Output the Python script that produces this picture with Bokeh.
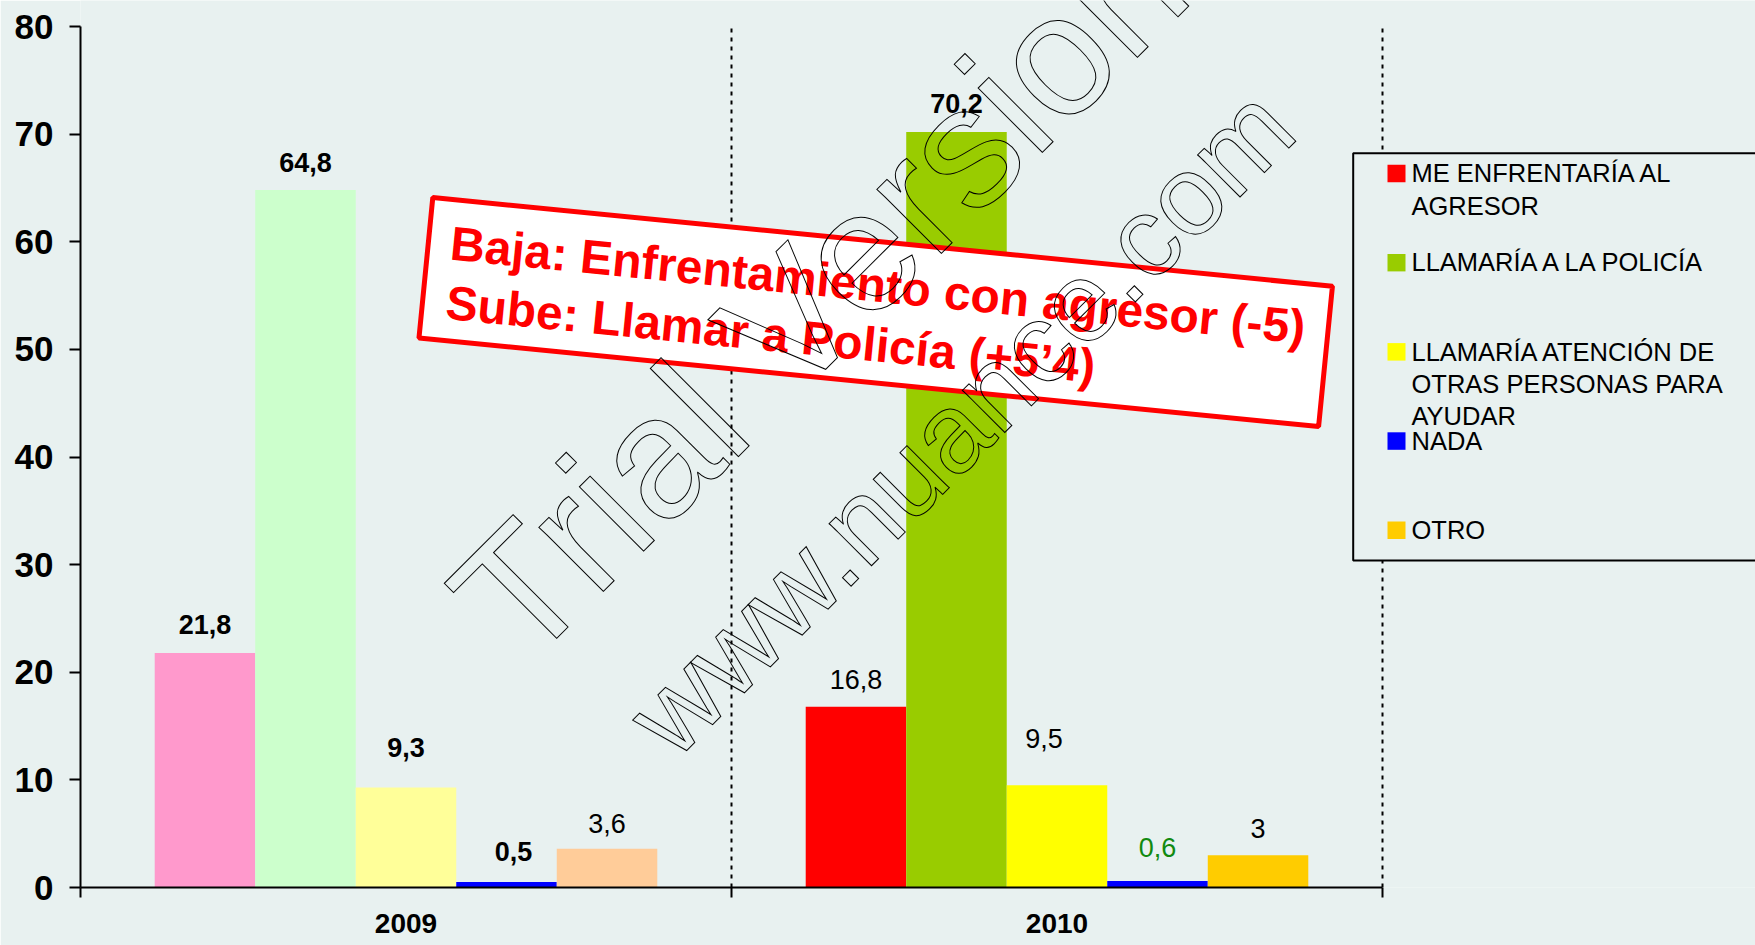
import numpy as np
from bokeh.plotting import figure
from bokeh.models import (ColumnDataSource, Range1d, LinearAxis, FixedTicker,
                          LabelSet, Label, BoxAnnotation)
from bokeh.transform import dodge
from bokeh.core.properties import value, field
from bokeh.embed import file_html
from bokeh.resources import INLINE

# ---------------- data ----------------
years = ["2009", "2010"]
series_names = ["ME ENFRENTARÍA AL AGRESOR", "LLAMARÍA A LA POLICÍA",
                "LLAMARÍA ATENCIÓN DE OTRAS PERSONAS PARA AYUDAR", "NADA", "OTRO"]
legend_labels = ["ME ENFRENTARÍA AL\nAGRESOR", "LLAMARÍA A LA POLICÍA",
                 "LLAMARÍA ATENCIÓN DE\nOTRAS PERSONAS PARA\nAYUDAR", "NADA", "OTRO"]
values_2009 = [21.8, 64.8, 9.3, 0.5, 3.6]
values_2010 = [16.8, 70.2, 9.5, 0.6, 3.0]
colors_2009 = ["#FF99CC", "#CCFFCC", "#FFFF99", "#0000FF", "#FFCC99"]
colors_2010 = ["#FF0000", "#99CC00", "#FFFF00", "#0000FF", "#FFCC00"]
y_ticks = [0, 10, 20, 30, 40, 50, 60, 70, 80]
note_lines = ["Baja: Enfrentamiento con agresor (-5)",
              "Sube: Llamar a Policía (+5\u20194)"]
watermark_texts = ["Trial Version", "www.nuance.com"]

# ---------------- styling of the value labels ----------------
label_bold_2009 = [True, True, True, True, False]
label_bold_2010 = [False, True, False, False, False]
label_color_2009 = ["black", "black", "black", "black", "black"]
label_color_2010 = ["black", "black", "black", "#118A11", "black"]
label_gap_2009 = [19, 18, 30, 21, 16]      # px above bar top
label_gap_2010 = [18, 19, 37, 24, 17]
label_dx_2009 = [0, 0, 0, 7, 0]            # px horizontal shift
label_dx_2010 = [0, 0, -13, 0, 0]

BG = "#E8F1F0"
FONT = "Liberation Sans"

W, H = 1755, 945
FL, FB = 80, 887          # frame left / bottom (canvas px)
XS = 651.0                # px per category
YS = 10.7625              # px per unit of value
n_cat = len(years)


def sx(px):   # canvas px -> frame screen units
    return px - FL


def sy(py):
    return FB - py


def dx(px):   # canvas px -> data x
    return (px - FL) / XS


def dy(py):
    return (FB - py) / YS


p = figure(width=W, height=H, x_range=Range1d(0, (W - FL) / XS), y_range=Range1d(0, FB / YS),
           x_axis_type=None, y_axis_type=None, toolbar_location=None,
           output_backend="svg", min_border_left=FL, min_border_right=0,
           min_border_top=0, min_border_bottom=H - FB)
p.background_fill_color = BG
p.border_fill_color = BG
p.outline_line_color = None

# ---------------- axes ----------------
yaxis = LinearAxis(ticker=FixedTicker(ticks=y_ticks), bounds=(0, 80))
yaxis.axis_line_width = 2
yaxis.major_tick_line_width = 2
yaxis.major_tick_in = 0
yaxis.major_tick_out = 11
yaxis.minor_tick_line_color = None
yaxis.major_label_text_font = FONT
yaxis.major_label_text_font_size = "35px"
yaxis.major_label_text_font_style = "bold"
yaxis.major_label_text_color = "black"
yaxis.major_label_standoff = 16
p.add_layout(yaxis, "left")

boundaries = list(range(n_cat + 1))
centers = [i + 0.5 for i in range(n_cat)]

xtick_axis = LinearAxis(ticker=FixedTicker(ticks=boundaries), bounds=(0, n_cat))
xtick_axis.axis_line_width = 2
xtick_axis.major_tick_line_width = 2
xtick_axis.major_tick_in = 0
xtick_axis.major_tick_out = 10
xtick_axis.minor_tick_line_color = None
xtick_axis.major_label_text_font_size = "0px"
xtick_axis.major_label_text_color = None
xtick_axis.major_label_standoff = 0
p.add_layout(xtick_axis, "below")

xcat_axis = LinearAxis(ticker=FixedTicker(ticks=centers),
                       major_label_overrides={c: y for c, y in zip(centers, years)})
xcat_axis.axis_line_color = None
xcat_axis.major_tick_line_color = None
xcat_axis.minor_tick_line_color = None
xcat_axis.major_tick_in = 0
xcat_axis.major_tick_out = 0
xcat_axis.major_label_text_font = FONT
xcat_axis.major_label_text_font_size = "28px"
xcat_axis.major_label_text_font_style = "bold"
xcat_axis.major_label_text_color = "black"
xcat_axis.major_label_standoff = 16
p.add_layout(xcat_axis, "below")

# dotted category separators
sep = boundaries[1:]
p.segment(x0=sep, y0=[0] * len(sep), x1=sep, y1=[80] * len(sep), line_color="black",
          line_dash="4 5", line_width=2)

# ---------------- bars ----------------
n = len(series_names)
bar_w = 0.1544
offsets = [(i - (n - 1) / 2) * bar_w for i in range(n)]

data = dict(year=years, xc=centers)
for i in range(n):
    vals = [values_2009[i], values_2010[i]]
    data[f"v{i}"] = vals
    data[f"c{i}"] = [colors_2009[i], colors_2010[i]]
    data[f"l{i}"] = [f"{v:g}".replace(".", ",") for v in vals]
    data[f"fs{i}"] = ["bold" if b else "normal" for b in (label_bold_2009[i], label_bold_2010[i])]
    data[f"tc{i}"] = [label_color_2009[i], label_color_2010[i]]
    data[f"yo{i}"] = [label_gap_2009[i], label_gap_2010[i]]
    data[f"xo{i}"] = [label_dx_2009[i], label_dx_2010[i]]
source = ColumnDataSource(data)

for i in range(n):
    p.vbar(x=dodge("xc", offsets[i]), top=f"v{i}", width=bar_w,
           source=source, fill_color=field(f"c{i}"), line_color=None)

for i in range(n):
    p.add_layout(LabelSet(x=dodge("xc", offsets[i]), y=f"v{i}",
                          text=f"l{i}", source=source, text_align="center",
                          text_baseline="alphabetic", text_font=value(FONT),
                          text_font_size=value("27px"),
                          text_font_style=field(f"fs{i}"), text_color=field(f"tc{i}"),
                          y_offset=field(f"yo{i}"), x_offset=field(f"xo{i}")))

# ---------------- red note box ----------------
box_angle = -np.deg2rad(5.63)
box_cx, box_cy = 875.2, 311.6
p.rect(x=[dx(box_cx)], y=[dy(box_cy)], width=904, height=141,
       width_units="screen", height_units="screen", angle=box_angle,
       fill_color="white", line_color="#FF0000", line_width=5)
note_anchor = [(448.5, 259.0), (444.0, 318.3)]
note_src = ColumnDataSource(dict(x=[sx(a) for a, _ in note_anchor],
                                 y=[sy(b) for _, b in note_anchor], text=note_lines))
p.add_layout(LabelSet(x="x", y="y", text="text", source=note_src, x_units="screen",
                      y_units="screen", angle=box_angle, text_align="left",
                      text_baseline="alphabetic", text_font=value(FONT),
                      text_font_size=value("48px"), text_font_style="bold",
                      text_color="#FF0000"))

# ---------------- legend (drawn by hand, fixed spacing) ----------------
p.add_layout(BoxAnnotation(left=sx(1352.7), right=sx(1800), top=sy(152.7), bottom=sy(560),
                           left_units="screen", right_units="screen",
                           top_units="screen", bottom_units="screen",
                           fill_color=BG, fill_alpha=1.0, line_color="black",
                           line_alpha=1.0, line_width=2, level="annotation"))
leg_x, leg_y, leg_t = [], [], []
for i, (lab, col) in enumerate(zip(legend_labels, colors_2010)):
    base = 181.7 + 89.2 * i
    p.add_layout(BoxAnnotation(left=sx(1387), right=sx(1405), top=sy(base - 17.5),
                               bottom=sy(base), left_units="screen", right_units="screen",
                               top_units="screen", bottom_units="screen",
                               fill_color=col, fill_alpha=1.0, line_color=None))
    for k, line in enumerate(lab.split("\n")):
        leg_x.append(sx(1411))
        leg_y.append(sy(base + 32.3 * k))
        leg_t.append(line)
leg_src = ColumnDataSource(dict(x=leg_x, y=leg_y, text=leg_t))
p.add_layout(LabelSet(x="x", y="y", text="text", source=leg_src, x_units="screen",
                      y_units="screen", text_align="left", text_baseline="alphabetic",
                      text_font=value(FONT), text_font_size=value("25.5px"),
                      text_color="black"))

# ---------------- watermark (outlined text) ----------------
wm_pos = [(818, 291), (960, 421)]
wm_size = ["172px", "113px"]
for txt, (wx, wy), fs in zip(watermark_texts, wm_pos, wm_size):
    p.add_layout(Label(x=sx(wx), y=sy(wy), x_units="screen", y_units="screen",
                       text=txt, angle=np.pi / 4, text_align="center",
                       text_baseline="middle", text_font=FONT, text_font_size=fs,
                       text_color="#00000000", text_outline_color="black"))

open("out.html", "w").write(file_html(p, INLINE))
